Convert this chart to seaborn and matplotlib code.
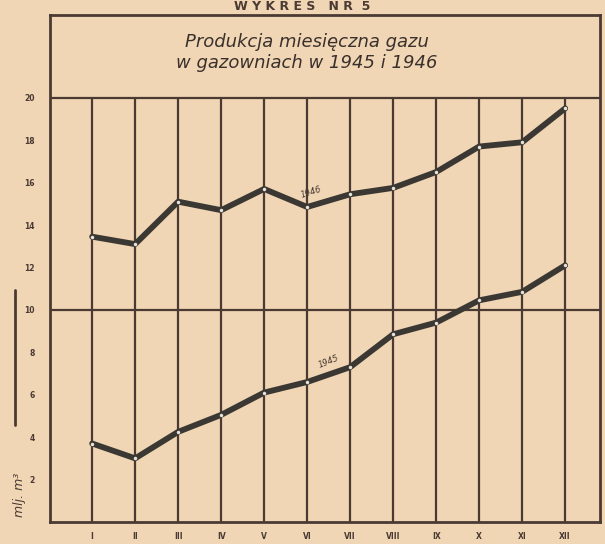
import numpy as np
import pandas as pd
import seaborn as sns
import matplotlib.pyplot as plt
from matplotlib.lines import Line2D

months = ["I", "II", "III", "IV", "V", "VI", "VII", "VIII", "IX", "X", "XI", "XII"]
gas_1945 = [3.7, 3.0, 4.25, 5.05, 6.1, 6.6, 7.3, 8.85, 9.4, 10.45, 10.85, 12.1]
gas_1946 = [13.45, 13.1, 15.1, 14.7, 15.7, 14.85, 15.45, 15.75, 16.5, 17.7, 17.9, 19.5]
y_ticks = [2, 4, 6, 8, 10, 12, 14, 16, 18, 20]

paper = "#f0d6b4"
ink = "#4a3a33"

df = pd.DataFrame({
    "miesiac": list(range(12)) * 2,
    "mln m3": gas_1945 + gas_1946,
    "rok": ["1945"] * 12 + ["1946"] * 12,
})

sns.set_style("white")
fig = plt.figure(figsize=(6.05, 5.44), dpi=100)
fig.patch.set_facecolor(paper)
ax = fig.add_axes([50 / 605, 22 / 544, 550 / 605, 507 / 544])
ax.set_facecolor(paper)

# grid: every month vertically, only 10 and 20 horizontally
for i in range(12):
    ax.axvline(i, ymin=0, ymax=20 / 23.9, color=ink, lw=1.6, zorder=1)
for v in [10, 20]:
    ax.axhline(v, color=ink, lw=1.6, zorder=1)

sns.lineplot(data=df, x="miesiac", y="mln m3", hue="rok", units="rok", estimator=None,
             palette={"1945": "#3b3834", "1946": "#3b3834"}, linewidth=4.2,
             legend=False, ax=ax, zorder=3)
for series in [gas_1945, gas_1946]:
    ax.plot(range(12), series, "o", ms=2.5, color="#e8e4da", mec="none", zorder=4)

ax.set_xlim(-0.98, 11.81)
ax.set_ylim(0, 23.9)
ax.set_xticks(range(12))
ax.set_xticklabels(months, fontsize=5.5, fontweight="bold", color=ink)
ax.set_yticks(y_ticks)
ax.set_yticklabels(y_ticks, fontsize=5.5, fontweight="bold", color=ink)
ax.tick_params(axis="both", length=3, width=1, color=ink, pad=8)
ax.tick_params(axis="x", pad=4)
ax.set_xlabel("")
ax.set_ylabel("")
for side in ["left", "right", "top", "bottom"]:
    ax.spines[side].set_color(ink)
    ax.spines[side].set_linewidth(2.0)

ax.text(5.0, 22.15, "Produkcja miesięczna gazu\nw gazowniach w 1945 i 1946",
        ha="center", va="center", fontsize=13, style="italic", color="#3a302c",
        linespacing=1.2)
ax.text(5.1, 15.55, "1946", fontsize=6, style="italic", color=ink, rotation=18,
        ha="center", va="center")
ax.text(5.5, 7.55, "1945", fontsize=6, style="italic", color=ink, rotation=22,
        ha="center", va="center")

fig.text(20 / 605, 1 - 495 / 544, "mlj. m³", rotation=90, ha="center", va="center",
         fontsize=9, style="italic", color=ink)
fig.add_artist(Line2D([15 / 605, 15 / 605], [1 - 290 / 544, 1 - 425 / 544],
                      color=ink, lw=2))
fig.text(0.5, 1 - 7 / 544, "W Y K R E S   N R  5", ha="center", va="center",
         fontsize=9, fontweight="bold", color=ink)

fig.savefig("out.png", dpi=100, facecolor=paper)
